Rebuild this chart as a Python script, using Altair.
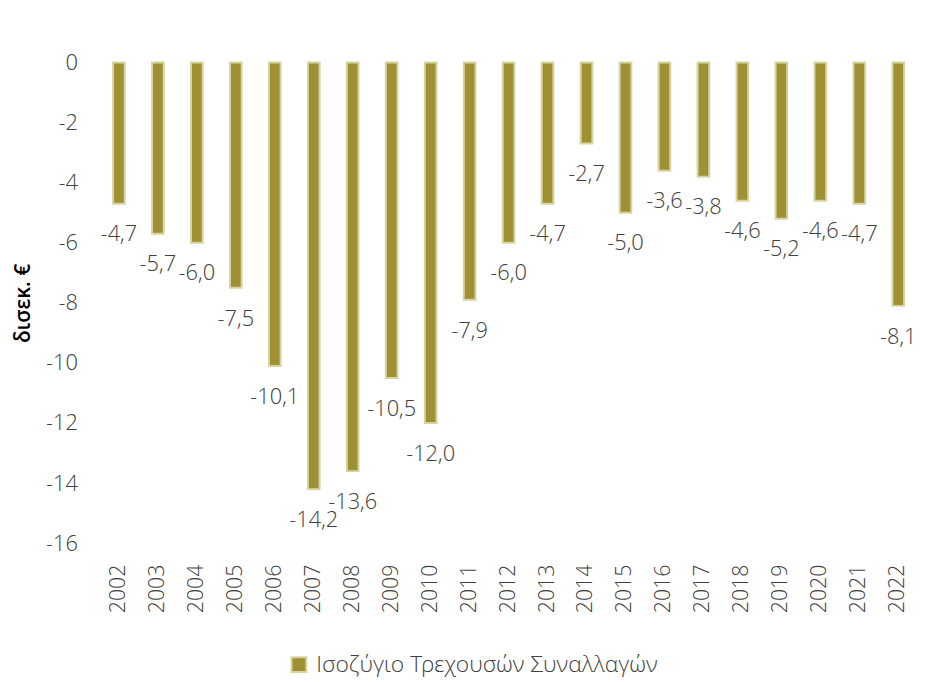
import altair as alt
import pandas as pd

years = [str(y) for y in range(2002, 2023)]
values = [-4.7, -5.7, -6.0, -7.5, -10.1, -14.2, -13.6, -10.5, -12.0, -7.9,
          -6.0, -4.7, -2.7, -5.0, -3.6, -3.8, -4.6, -5.2, -4.6, -4.7, -8.1]
series_name = "Ισοζύγιο Τρεχουσών Συναλλαγών"
y_ticks = [0, -2, -4, -6, -8, -10, -12, -14, -16]

df = pd.DataFrame({"year": years, "value": values})
df["series"] = series_name
df["label"] = [f"{v:.1f}".replace(".", ",") for v in values]

FONT = "Open Sans Light, Roboto Light, Lato Light, Open Sans"
TFONT = "Open Sans SemiBold, Open Sans"
TXT = "#404040"
FILL = "#9E9134"
EDGE = "#D8D4A2"

x = alt.X("year:N", sort=years, title=None,
          scale=alt.Scale(paddingInner=0.7, paddingOuter=0.0),
          axis=alt.Axis(labelAngle=-90, labelFontSize=21.5, labelFont=FONT,
                        labelFontWeight=300, labelColor=TXT, ticks=False,
                        domain=False, labelPadding=21))
y = alt.Y("value:Q", title="δισεκ. €",
          scale=alt.Scale(domain=[-16, 0], nice=False),
          axis=alt.Axis(values=y_ticks, grid=False, domain=False, ticks=False,
                        labelExpr="toString(datum.value)",
                        labelFontSize=22, labelFont=FONT, labelFontWeight=300,
                        labelColor=TXT, labelPadding=36,
                        titleFont=TFONT, titleFontSize=21, titleFontWeight=600,
                        titleColor="#000000", titlePadding=12))

bars = alt.Chart(df).mark_bar(stroke=EDGE, strokeWidth=2).encode(
    x=x, y=y,
    color=alt.Color("series:N", scale=alt.Scale(range=[FILL]),
                    legend=alt.Legend(title=None, orient="none", legendX=176,
                                      legendY=596, symbolType="square",
                                      symbolSize=225, symbolStrokeColor=EDGE,
                                      symbolStrokeWidth=2, labelLimit=0,
                                      labelOffset=6,
                                      labelFont=FONT, labelFontSize=23,
                                      labelFontWeight=300, labelColor=TXT)),
)

labels = alt.Chart(df).mark_text(dy=31, baseline="middle", align="center",
                                 font=FONT, fontSize=22, fontWeight=300,
                                 color=TXT).encode(
    x=alt.X("year:N", sort=years), y="value:Q", text="label:N")

chart = alt.layer(bars, labels).properties(
    width=798, height=485,
    autosize=alt.AutoSizeParams(type="none"),
    padding={"left": 106, "top": 52, "right": 14, "bottom": 135},
).configure_view(stroke=None)

chart.save("out.html", embed_options={"renderer": "svg", "actions": False})
